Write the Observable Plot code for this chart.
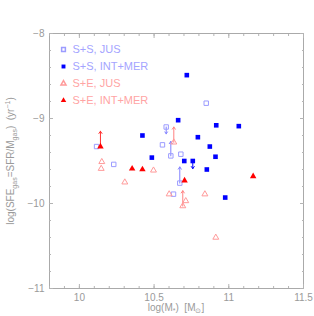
<!DOCTYPE html>
<html><head><meta charset="utf-8">
<script src="https://cdn.jsdelivr.net/npm/d3@7"></script>
<script src="https://cdn.jsdelivr.net/npm/@observablehq/plot@0.6"></script>
<style>body{margin:0;background:#fff} svg{display:block}</style>
</head><body><div id="chart"></div>
<script>
// S+S, JUS (open blue squares)
const ssJusX = [10.115, 10.849, 10.581, 10.556, 10.612, 10.679, 10.230, 10.672, 10.630];
const ssJusY = [-9.33, -8.82, -9.10, -9.31, -9.44, -9.42, -9.54, -9.76, -9.89];
// S+S, INT+MER (filled blue squares)
const ssIntX = [10.719, 10.661, 10.916, 11.067, 10.793, 10.873, 10.485, 10.911, 10.702, 10.759, 10.853, 10.422, 10.976];
const ssIntY = [-8.49, -9.02, -9.08, -9.09, -9.22, -9.33, -9.46, -9.45, -9.50, -9.50, -9.60, -9.20, -9.93];
// S+E, JUS (open red triangles)
const seJusX = [10.150, 10.146, 10.304, 10.496, 10.632, 10.601, 10.712, 10.692, 10.840, 10.913];
const seJusY = [-9.51, -9.59, -9.75, -9.61, -9.28, -9.89, -9.97, -10.03, -9.89, -10.40];
// S+E, INT+MER (filled red triangles)
const seIntX = [10.141, 10.353, 10.422, 10.704, 11.163];
const seIntY = [-9.33, -9.59, -9.60, -9.73, -9.68];
// limit arrows
const arrowX  = [10.141, 10.581, 10.632, 10.612, 10.759, 10.672, 10.692];
const arrowY1 = [-9.33, -9.10, -9.28, -9.44, -9.50, -9.76, -10.03];
const arrowY2 = [-9.15, -9.18, -9.10, -9.27, -9.59, -9.57, -9.85];
const arrowGroup = ["seInt", "ssJus", "seJus", "ssJus", "ssInt", "ssJus", "seJus"];
// legend
const legendLabels = ["S+S, JUS", "S+S, INT+MER", "S+E, JUS", "S+E, INT+MER"];
const legendGroups = ["ssJus", "ssInt", "seJus", "seInt"];
// ticks
const xMajor = [10, 10.5, 11, 11.5];
const xMajorLabels = ["10", "10.5", "11", "11.5"];
const yMajor = [-8, -9, -10, -11];
const yMajorLabels = ["\u22128", "\u22129", "\u221210", "\u221211"];
const xMinor = d3.range(98, 116).map(d => d / 10);
const yMinor = d3.range(-110, -79, 2).map(d => d / 10);

const style = {
  ssJus: {symbol: "square", r: 2.5, stroke: "#9c9cff", fill: "none", text: "#a4a4ff"},
  ssInt: {symbol: "square", r: 2.6, stroke: "none", fill: "#0000ff", text: "#a4a4ff"},
  seJus: {symbol: "triangle", r: 2.2, stroke: "#ff9a9a", fill: "none", text: "#ffa4a4"},
  seInt: {symbol: "triangle", r: 2.4, stroke: "none", fill: "#ff0000", text: "#ffa4a4"}
};
const arrowColor = {ssJus: "#8080ff", ssInt: "#0000ff", seJus: "#ff8080", seInt: "#ff3030"};

const tbl = (xs, ys) => xs.map((x, i) => ({x, y: ys[i]}));
const arrows = arrowX.map((x, i) => ({x, y1: arrowY1[i], y2: arrowY2[i], g: arrowGroup[i]}));

const axisCol = "#aaaaaa";
const tickCol = "#b4b4b4";
const font = "Liberation Sans, Arial, sans-serif";
const tk = (a, size, anchor, data) => a(data, {anchor, tickSize: size, tickFormat: () => "", stroke: tickCol, label: null});

const marks = [
  Plot.frame({stroke: axisCol}),
  tk(Plot.axisX, -2, "bottom", xMinor),
  tk(Plot.axisX, -2, "top", xMinor),
  tk(Plot.axisX, -4, "bottom", xMajor),
  tk(Plot.axisX, -4, "top", xMajor),
  tk(Plot.axisY, -2, "left", yMinor),
  tk(Plot.axisY, -2, "right", yMinor),
  tk(Plot.axisY, -4, "left", yMajor),
  tk(Plot.axisY, -4, "right", yMajor),
  Plot.axisX(xMajor, {anchor: "bottom", tickSize: 0, tickPadding: 5, tickFormat: (d, i) => xMajorLabels[i], fill: "#9a9a9a", fontSize: 10, label: null}),
  Plot.axisY(yMajor, {anchor: "left", tickSize: 0, tickPadding: 5, tickFormat: (d, i) => yMajorLabels[i], fill: "#9a9a9a", fontSize: 10, label: null}),
  Plot.arrow(arrows, {x1: "x", x2: "x", y1: "y1", y2: "y2", stroke: d => arrowColor[d.g], strokeWidth: 1, headLength: 4, headAngle: 70}),
  Plot.dot(tbl(ssJusX, ssJusY), {x: "x", y: "y", symbol: "square", r: style.ssJus.r, stroke: style.ssJus.stroke, fill: "none", strokeWidth: 1}),
  Plot.dot(tbl(ssIntX, ssIntY), {x: "x", y: "y", symbol: "square", r: style.ssInt.r, fill: style.ssInt.fill, stroke: "none"}),
  Plot.dot(tbl(seJusX, seJusY), {x: "x", y: "y", symbol: "triangle", r: style.seJus.r, stroke: style.seJus.stroke, fill: "none", strokeWidth: 1}),
  Plot.dot(tbl(seIntX, seIntY), {x: "x", y: "y", symbol: "triangle", r: style.seInt.r, fill: style.seInt.fill, stroke: "none"})
];
legendGroups.forEach((g, i) => {
  const s = style[g];
  marks.push(Plot.dot([0], {frameAnchor: "top-left", dx: 14, dy: 16 + 17 * i, symbol: s.symbol, r: s.r * 0.85, fill: s.fill, stroke: s.stroke}));
  marks.push(Plot.text([legendLabels[i]], {frameAnchor: "top-left", dx: 23, dy: 16 + 17 * i, text: d => d, textAnchor: "start", lineAnchor: "middle", fill: s.text, fontSize: 11}));
});

const chart = Plot.plot({
  width: 314, height: 316,
  marginLeft: 49, marginRight: 11, marginTop: 33, marginBottom: 28,
  style: {fontFamily: font, background: "#fff"},
  x: {domain: [9.8, 11.5], axis: null},
  y: {domain: [-11, -8], axis: null},
  marks
});
document.getElementById("chart").appendChild(chart);

// axis titles with sub/superscripts
const svg = d3.select(chart);
const yl = svg.append("text")
  .attr("transform", "translate(14,161) rotate(-90)")
  .attr("text-anchor", "middle").style("fill", "#9a9a9a")
  .attr("font-size", 10).attr("font-family", font);
yl.append("tspan").text("log(SFE");
yl.append("tspan").attr("font-size", 7).attr("dy", 2.5).text("gas");
yl.append("tspan").attr("dy", -2.5).text("=SFR/M");
yl.append("tspan").attr("font-size", 7).attr("dy", 2.5).text("gas");
yl.append("tspan").attr("dy", -2.5).text(")  (yr");
yl.append("tspan").attr("font-size", 7).attr("dy", -4).text("\u22121");
yl.append("tspan").attr("dy", 4).text(")");

const xl = svg.append("text")
  .attr("x", 176).attr("y", 311)
  .attr("text-anchor", "middle").style("fill", "#9a9a9a")
  .attr("font-size", 10).attr("font-family", font);
xl.append("tspan").text("log(M");
xl.append("tspan").attr("font-size", 7).attr("dy", 2).text("*");
xl.append("tspan").attr("dy", -2).text(")  [M");
xl.append("tspan").attr("font-size", 7).attr("dy", 2).text("\u2299");
xl.append("tspan").attr("dy", -2).text("]");
</script></body></html>
